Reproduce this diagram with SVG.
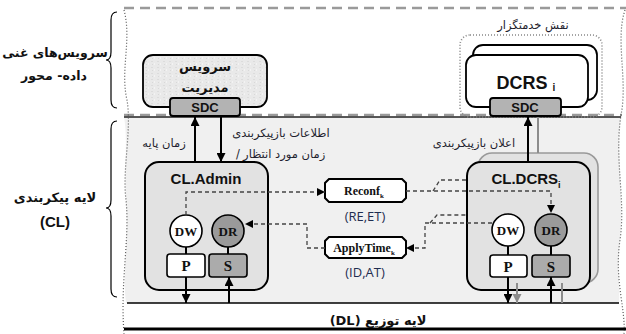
<svg xmlns="http://www.w3.org/2000/svg" width="626" height="334" viewBox="0 0 626 334">
<defs>
<style>
.fa{font-family:"DejaVu Sans","Noto Sans",sans-serif;direction:rtl;text-anchor:middle;fill:#1f1f2f}
.fab{font-family:"DejaVu Sans","Noto Sans",sans-serif;font-weight:bold;direction:rtl;text-anchor:middle;fill:#111}
.lat{font-family:"Liberation Sans",Arial,sans-serif;font-weight:bold;text-anchor:middle;fill:#111}
.ser{font-family:"Liberation Serif","Times New Roman",serif;font-weight:bold;text-anchor:middle;fill:#111}
.sol{stroke:#000;stroke-width:2;fill:none}
.dash{stroke:#444;stroke-width:1.3;stroke-dasharray:4 3;fill:none}
.gry{stroke:#8c8c8c;stroke-width:2;fill:none}
.clbox{fill:#e2e2e2;stroke:#000;stroke-width:2}
.circW{fill:#fff;stroke:#000;stroke-width:1.6}
.circD{fill:#9a9a9a;stroke:#000;stroke-width:1.6}
.boxW{fill:#fff;stroke:#000;stroke-width:1.6}
.boxD{fill:#ababab;stroke:#000;stroke-width:1.6}
.sdc{fill:#b3b3b3;stroke:#000;stroke-width:1.8}
.msg{fill:#fff;stroke:#000;stroke-width:2}
.dot{fill:none;stroke:#555;stroke-width:1.2;stroke-dasharray:1 2}
</style>
<marker id="ah" viewBox="0 0 10 10" refX="10" refY="5" markerWidth="9" markerHeight="9" markerUnits="userSpaceOnUse" orient="auto"><path d="M0,0 L10,5 L0,10 z" fill="#000"/></marker>
<marker id="ahs" viewBox="0 0 10 10" refX="10" refY="5" markerWidth="8" markerHeight="8" markerUnits="userSpaceOnUse" orient="auto"><path d="M0,0 L10,5 L0,10 z" fill="#000"/></marker>
<marker id="ahg" viewBox="0 0 10 10" refX="10" refY="5" markerWidth="9" markerHeight="9" markerUnits="userSpaceOnUse" orient="auto"><path d="M0,0 L10,5 L0,10 z" fill="#8c8c8c"/></marker>
<pattern id="tex" width="6" height="6" patternUnits="userSpaceOnUse"><rect width="6" height="6" fill="#e9e9e9"/><rect x="1" y="1" width="2" height="1" fill="#dcdcdc"/><rect x="4" y="3" width="1" height="2" fill="#f3f3f3"/><rect x="2" y="4" width="1" height="1" fill="#d8d8d8"/></pattern>
</defs>

<g id="layers">
<rect x="0" y="0" width="626" height="334" fill="#fff"/>
<path d="M124,117 H621 C616,150 624,200 620,240 C617,270 620,290 619,303 H126 C122,270 129,240 126,200 C124,160 128,140 124,117 Z" fill="#f0f0f0"/>
<line x1="124" y1="8" x2="626" y2="8" stroke="#9a9a9a" stroke-width="2.5" stroke-dasharray="10 6"/>
<line x1="124" y1="115" x2="622" y2="115" stroke="#9a9a9a" stroke-width="2.5" stroke-dasharray="10 6"/>
<line x1="124" y1="117" x2="621" y2="117" stroke="#222" stroke-width="1.3"/>
<line x1="127" y1="303" x2="619" y2="303" stroke="#000" stroke-width="1.6"/>
<line x1="124" y1="329" x2="626" y2="329" stroke="#000" stroke-width="3"/>
<path class="dot" d="M124,10 C132,40 120,70 127,100 C132,130 122,170 126,200 C130,240 120,280 124,334"/>
<path class="dot" d="M625,10 C615,40 628,80 621,115 C614,160 626,200 620,240 C614,280 626,310 624,334"/>
<path d="M117,12 Q111,12 111,20 L111,52 Q111,60 106,60 Q111,60 111,68 L111,100 Q111,108 117,108" fill="none" stroke="#000" stroke-width="1.2"/>
<path d="M117,121 Q111,121 111,129 L111,200 Q111,208 106,208 Q111,208 111,216 L111,289 Q111,297 117,297" fill="none" stroke="#000" stroke-width="1.2"/>
<text class="fab" x="55" y="57" font-size="12.5">سرویس‌های غنی</text>
<text class="fab" x="54" y="80" font-size="12.5">داده- محور</text>
<text class="fab" x="55" y="202" font-size="13">لایه پیکربندی</text>
<text class="lat" x="55" y="227" font-size="15">(CL)</text>
<text class="fab" x="378" y="325" font-size="13">لایه توزیع (DL)</text>
</g>

<g id="mgmt">
<rect x="143" y="55" width="124" height="52" rx="10" fill="url(#tex)" stroke="#000" stroke-width="1.8"/>
<text class="fab" x="205" y="71" font-size="13">سرویس</text>
<text class="fab" x="205" y="92" font-size="13">مدیریت</text>
<rect class="sdc" x="170" y="98" width="70" height="18" rx="3"/>
<text class="lat" x="205" y="112" font-size="13">SDC</text>
</g>

<g id="dcrs">
<text class="fa" x="533" y="29" font-size="11.5">نقش خدمتگزار</text>
<rect class="dot" x="460" y="35" width="142" height="82" rx="10" style="stroke:#888;stroke-width:1.6"/>
<rect x="473" y="45" width="124" height="55" rx="10" fill="#fff" stroke="#000" stroke-width="1.8"/>
<rect x="466" y="55" width="122" height="52" rx="10" fill="#fff" stroke="#000" stroke-width="1.8"/>
<text class="lat" x="526" y="89" font-size="18">DCRS <tspan font-size="10" dy="2">i</tspan></text>
<rect class="sdc" x="490" y="98" width="71" height="18" rx="3"/>
<text class="lat" x="525" y="112" font-size="13">SDC</text>
</g>

<g id="cl-admin">
<rect class="clbox" x="145" y="162" width="123" height="128" rx="14"/>
<text class="lat" x="206" y="184" font-size="15">CL.Admin</text>
<line class="sol" x1="186" y1="247" x2="186" y2="254"/>
<line class="sol" x1="228" y1="247" x2="228" y2="254"/>
<circle class="circW" cx="186" cy="231" r="16"/>
<text class="ser" x="186" y="236" font-size="13">DW</text>
<circle class="circD" cx="228" cy="231" r="16"/>
<text class="ser" x="228" y="236" font-size="13">DR</text>
<rect class="boxW" x="167" y="254" width="38" height="23" rx="3"/>
<text class="ser" x="186" y="271" font-size="15">P</text>
<rect class="boxD" x="209" y="254" width="38" height="23" rx="3"/>
<text class="ser" x="228" y="271" font-size="15">S</text>
</g>

<g id="cl-dcrs">
<rect x="478" y="153" width="120" height="130" rx="14" fill="#e2e2e2" stroke="#999" stroke-width="1.6"/>
<rect class="clbox" x="467" y="162" width="123" height="128" rx="14"/>
<text class="lat" x="526" y="184" font-size="15">CL.DCRS<tspan font-size="9" dy="4">i</tspan></text>
<line class="sol" x1="508" y1="246" x2="508" y2="255"/>
<line class="sol" x1="551" y1="246" x2="551" y2="255"/>
<circle class="circW" cx="508" cy="230" r="16"/>
<text class="ser" x="508" y="235" font-size="13">DW</text>
<circle class="circD" cx="551" cy="230" r="16"/>
<text class="ser" x="551" y="235" font-size="13">DR</text>
<rect class="boxW" x="490" y="255" width="37" height="22" rx="3"/>
<text class="ser" x="508" y="272" font-size="15">P</text>
<rect class="boxD" x="532" y="255" width="38" height="22" rx="3"/>
<text class="ser" x="551" y="272" font-size="15">S</text>
</g>

<g id="reconf">
<polygon class="msg" points="329,179 402,179 406,183 406,198 402,202 329,202 325,198 325,183"/>
<text class="ser" x="364" y="195" font-size="12">Reconf<tspan font-size="7" dy="3">k</tspan></text>
<text x="365" y="221" font-family="'Open Sans','DejaVu Sans',sans-serif" font-size="13" text-anchor="middle" fill="#1f2d50">(RE,ET)</text>
</g>

<g id="applytime">
<polygon class="msg" points="329,237 402,237 406,241 406,254 402,258 329,258 325,254 325,241"/>
<text class="ser" x="364" y="252" font-size="12">ApplyTime<tspan font-size="7" dy="3">k</tspan></text>
<text x="365" y="277" font-family="'Open Sans','DejaVu Sans',sans-serif" font-size="13" text-anchor="middle" fill="#1f2d50">(ID,AT)</text>
</g>

<g id="connectors">
<line class="sol" x1="195" y1="162" x2="195" y2="117" marker-end="url(#ah)"/>
<line class="sol" x1="221" y1="117" x2="221" y2="162" marker-end="url(#ah)"/>
<text class="fa" x="164" y="147" font-size="11.5">زمان پایه</text>
<text class="fa" x="281" y="137" font-size="11.5">اطلاعات بازپیکربندی</text>
<text class="fa" y="158" font-size="11.5"><tspan x="238">/</tspan><tspan x="286"> زمان مورد انتظار</tspan></text>
<line class="sol" x1="528" y1="162" x2="528" y2="117" marker-end="url(#ah)"/>
<line class="gry" x1="538" y1="153" x2="538" y2="117"/>
<text class="fa" x="474" y="147" font-size="11.5">اعلان بازپیکربندی</text>
<line class="sol" x1="186" y1="277" x2="186" y2="303" marker-end="url(#ah)"/>
<line class="sol" x1="229" y1="303" x2="229" y2="277" marker-end="url(#ah)"/>
<line class="sol" x1="508" y1="277" x2="508" y2="303" marker-end="url(#ah)"/>
<line class="sol" x1="551" y1="303" x2="551" y2="277" marker-end="url(#ah)"/>
<line class="gry" x1="517" y1="283" x2="517" y2="303" marker-end="url(#ahg)"/>
<line class="gry" x1="562" y1="283" x2="562" y2="303"/>
<path class="dash" d="M186,215 V192 H325" marker-end="url(#ahs)"/>
<path class="dash" d="M325,248 H307 V224 H245" marker-end="url(#ahs)"/>
<path class="dash" d="M406,191 H551 V213" marker-end="url(#ahs)"/>
<path class="dash" d="M433,191 L440,180 H467"/>
<path class="dash" d="M492,223 H425 V248 H406" marker-end="url(#ahs)"/>
<path class="dash" d="M430,223 L437,215 H467"/>
</g>
</svg>
